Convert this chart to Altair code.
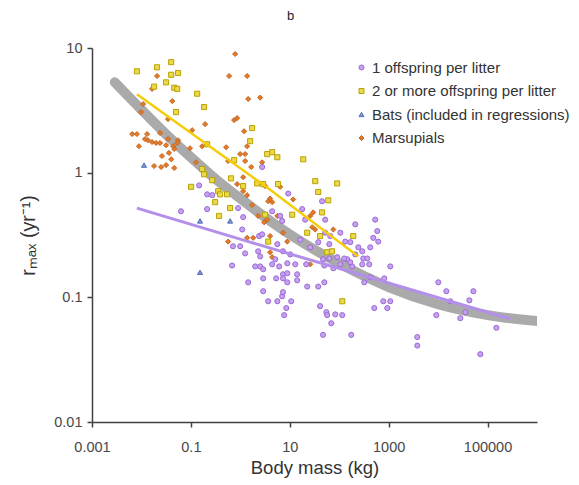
import altair as alt
import pandas as pd

# ---- data ----
one_mass = [2.76, 0.147, 0.063, 9.3, 45, 0.213, 0.27, 0.213, 0.90, 4.4, 6.4, 17.8, 1.14, 7.0, 20.5, 52, 1.09, 2.4, 2.76, 16.3,
            66, 105, 211, 535, 588, 488, 0.71, 0.99, 1.25, 2.29, 5.6, 2.52, 2.0, 2.52, 4.4, 6.1, 8.9, 12.9, 25.9, 37.6,
            47, 91, 145, 211, 306, 424, 183, 292, 1077, 132, 615, 167, 243, 292, 63, 52, 7.3, 10.2, 5.1, 2.9,
            7.3, 8.9, 14.1, 7.3, 2.9, 5.3, 8.9, 14.1, 63, 126, 167, 369, 405, 76, 105, 50, 321, 815, 424, 21.5,
            2.9, 7.0, 7.3, 3.66, 5.6, 10.7, 22.5, 37.6, 50, 8.5, 7.7, 41, 55, 57, 83, 115, 69, 47, 175, 511,
            778, 938, 1077, 3790, 3790, 9200, 10090, 14660, 17660, 28120, 35560, 42850, 51640, 71450, 150700, 0.68, 1.44]
one_r = [1.11, 0.79, 0.49, 0.68, 0.59, 0.67, 0.66, 0.51, 0.52, 0.49, 0.45, 0.51, 0.44, 0.41, 0.42, 0.33, 0.35, 0.31, 0.32, 0.29,
         0.31, 0.33, 0.385, 0.42, 0.34, 0.30, 0.257, 0.257, 0.225, 0.234, 0.267, 0.213, 0.177, 0.177, 0.184, 0.177, 0.1875, 0.184, 0.252, 0.277,
         0.202, 0.21, 0.202, 0.221, 0.205, 0.252, 0.177, 0.184, 0.177, 0.28, 0.28, 0.277, 0.252, 0.234, 0.267, 0.42, 0.234, 0.221, 0.202, 0.168,
         0.153, 0.156, 0.153, 0.142, 0.142, 0.142, 0.132, 0.137, 0.205, 0.205, 0.191, 0.205, 0.184, 0.171, 0.184, 0.18, 0.132, 0.142, 0.145, 0.184,
         0.112, 0.102, 0.110, 0.093, 0.093, 0.093, 0.122, 0.122, 0.132, 0.082, 0.072, 0.085, 0.076, 0.072, 0.073, 0.072, 0.062, 0.050, 0.050, 0.082,
         0.093, 0.082, 0.093, 0.048, 0.041, 0.072, 0.132, 0.112, 0.093, 0.068, 0.076, 0.0946, 0.112, 0.035, 0.057, 0.18, 0.132]

two_mass = [0.0081, 0.0207, 0.040, 0.040, 0.055, 0.0315, 0.018, 0.046, 0.053, 0.134, 0.185, 0.050, 1.73, 1.58, 0.748, 4.4, 3.49,
            5.6, 0.213, 0.169, 0.185, 0.269, 0.65, 0.101, 2.19, 2.9, 5.8, 1.14, 18.7, 32.7, 91, 37.6, 60, 0.356, 0.39, 0.54,
            0.309, 0.622, 11.2, 45, 0.372, 3.18, 22.5, 3.66, 41, 192, 57, 71, 115]
two_r = [6.5, 7.0, 7.7, 6.1, 6.3, 5.3, 4.9, 4.8, 4.7, 4.3, 3.36, 3.06, 2.28, 1.79, 1.26, 1.46, 1.41,
         1.33, 1.69, 1.07, 0.97, 0.87, 0.90, 0.77, 0.82, 0.81, 0.81, 0.78, 1.28, 0.855, 0.82, 0.70, 0.60, 0.71, 0.67, 0.67,
         0.58, 0.52, 0.46, 0.48, 0.45, 0.46, 0.33, 0.28, 0.31, 0.31, 0.23, 0.234, 0.093]

bat_mass = [0.0113, 0.153, 0.622, 0.153]
bat_r = [1.15, 0.41, 0.41, 0.159]

mars_mass = [0.785, 0.593, 1.37, 0.0207, 0.0164, 0.042, 1.44, 2.52, 0.0108, 0.0098, 0.0345, 0.748, 0.861, 0.194, 0.106, 1.19,
             0.0065, 0.0081, 0.013, 0.0238, 0.0118, 0.0136, 0.0164, 0.0198, 0.0238, 0.0089, 0.0345, 0.055, 0.053, 0.044, 0.0315,
             0.046, 0.096, 0.169, 0.516, 0.036, 0.026, 0.99, 1.25, 0.566, 0.040, 0.018, 0.025, 0.0315, 0.046, 0.127, 1.66, 1.14,
             0.861, 3.18, 1.37, 1.25, 2.76, 1.14, 1.37, 4.0, 3.66, 4.4, 11.7, 1.73, 29.8, 2.29, 3.49, 5.6, 3.03, 25.9, 28.4,
             32.7, 76, 0.566, 1.37, 1.82, 4.0, 7.3, 8.9, 4.0, 4.4, 25.9, 6.4]
mars_r = [8.95, 5.96, 5.96, 5.96, 4.7, 3.75, 3.9, 4.0, 3.55, 3.06, 2.69, 2.64, 2.74, 2.45, 2.19, 2.15,
          2.04, 2.04, 2.04, 2.08, 1.86, 1.82, 1.76, 1.73, 1.73, 1.63, 1.86, 1.82, 1.73, 1.63, 1.66,
          1.55, 1.57, 1.63, 1.60, 1.44, 1.36, 1.41, 1.41, 1.24, 1.28, 1.13, 1.11, 1.15, 1.09, 1.21, 1.11, 0.92,
          0.81, 0.78, 1.63, 1.24, 1.21, 0.71, 0.66, 0.62, 0.59, 0.58, 0.61, 0.55, 0.48, 0.45, 0.42, 0.45, 0.40, 0.45, 0.365,
          0.35, 0.35, 0.28, 0.30, 0.30, 0.31, 0.33, 0.28, 0.23, 0.21, 0.184, 0.77]

# fitted curves
all_fit_mass = [0.0029, 0.01, 0.0316, 0.1, 0.316, 1, 10, 100, 1000, 10000, 100000, 1300000]
all_fit_r = [5.3, 3.2, 2.03, 1.33, 0.89, 0.62, 0.32, 0.187, 0.121, 0.088, 0.072, 0.064]
two_fit_mass = [0.0081, 3.49, 243]
two_fit_r = [4.26, 0.76, 0.213]
one_fit_mass = [0.0081, 1.58, 290000]
one_fit_r = [0.52, 0.277, 0.067]

groups = ["1 offspring per litter", "2 or more offspring per litter",
          "Bats (included in regressions)", "Marsupials"]
fills = ["#c6a2ee", "#ecd84c", "#7f93d2", "#e07b2d"]
strokes = ["#9a68d8", "#b9a300", "#5670b8", "#c9661c"]
shapes = ["circle", "square", "triangle-up", "diamond"]
x_ticks = [0.001, 0.1, 10, 1000, 100000]
y_ticks = [0.01, 0.1, 1, 10]

FONT = "Liberation Sans"

rows = []
for ms, rs, g in [(mars_mass, mars_r, groups[3]), (two_mass, two_r, groups[1]),
                  (one_mass, one_r, groups[0]), (bat_mass, bat_r, groups[2])]:
    for m, r in zip(ms, rs):
        rows.append({"mass": m, "r": r, "group": g})
pts = pd.DataFrame(rows)

gray_df = pd.DataFrame({"mass": all_fit_mass, "r": all_fit_r})
yel_df = pd.DataFrame({"mass": two_fit_mass, "r": two_fit_r})
pur_df = pd.DataFrame({"mass": one_fit_mass, "r": one_fit_r})

x_enc = alt.X("mass:Q", scale=alt.Scale(type="log", domain=[0.001, 1000000]),
              axis=alt.Axis(values=x_ticks, format="~g", title="Body mass (kg)", labelFlush=False,
                            labelPadding=13, titlePadding=5, titleFontSize=18.5))
y_enc = alt.Y("r:Q", scale=alt.Scale(type="log", domain=[0.01, 10]),
              axis=alt.Axis(values=y_ticks, format="~g", title="r\u2098\u2090\u2093 (yr\u207b\u00b9)",
                            labelFlush=False, labelPadding=5, titlePadding=15, titleFontSize=19.5))

leg = alt.Legend(title=None, orient="none", legendX=262, legendY=12, labelFont=FONT,
                 labelFontSize=15, labelColor="#333333", symbolSize=25, rowPadding=7.5,
                 symbolStrokeWidth=1, labelLimit=400, labelOffset=3)

gray = alt.Chart(gray_df).mark_line(color="#aaaaaa", strokeWidth=10, strokeCap="round",
                                    clip=True, interpolate="monotone").encode(x=x_enc, y=y_enc)

points = alt.Chart(pts).mark_point(filled=True, opacity=1, strokeWidth=1, size=26).encode(
    x=x_enc, y=y_enc,
    color=alt.Color("group:N", scale=alt.Scale(domain=groups, range=fills), legend=leg),
    stroke=alt.Stroke("group:N", scale=alt.Scale(domain=groups, range=strokes), legend=leg),
    shape=alt.Shape("group:N", scale=alt.Scale(domain=groups, range=shapes), legend=leg),
)

pur = alt.Chart(pur_df).mark_line(color="#b48fea", strokeWidth=3, clip=True).encode(x=x_enc, y=y_enc)
yel = alt.Chart(yel_df).mark_line(color="#f5cc0a", strokeWidth=2.5, clip=True).encode(x=x_enc, y=y_enc)

chart = alt.layer(gray, points, pur, yel).properties(
    width=445, height=374,
    padding={"left": 92, "top": 48, "right": 42, "bottom": 63},
    autosize=alt.AutoSizeParams(type="none"),
    title=alt.TitleParams(text="b", fontSize=13, fontWeight="normal", font=FONT, color="#222222",
                          anchor="middle", offset=17, dx=-24),
).configure_view(stroke=None).configure_axis(
    grid=False, domainColor="#404040", domainWidth=1.5, tickColor="#404040", tickWidth=1.5,
    tickSize=5, labelFont=FONT, labelFontSize=14.5, labelColor="#484848",
    titleFont=FONT, titleColor="#333333", titleFontWeight="normal"
)

chart.save("out.html", embed_options={"renderer": "svg", "actions": False})
